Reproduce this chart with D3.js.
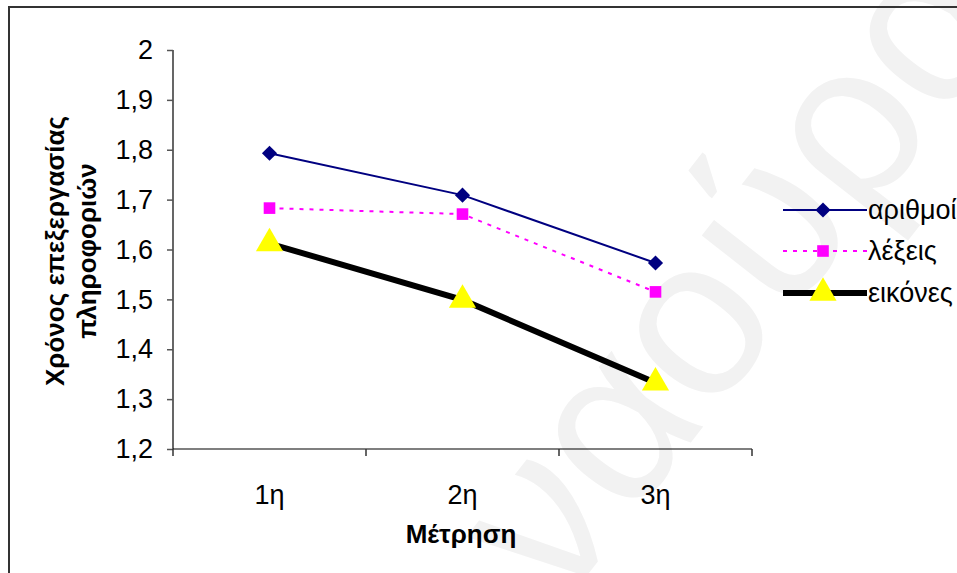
<!DOCTYPE html>
<html>
<head>
<meta charset="utf-8">
<script src="https://cdn.jsdelivr.net/npm/d3@7"></script>
<style>
  body { margin: 0; background: #fff; }
  svg { font-family: "Liberation Sans", Arial, sans-serif; }
</style>
</head>
<body>
<svg id="chart" width="957" height="573"></svg>
<script>
// data
var categories = ['1η', '2η', '3η'];
var arithmoi = [1.793, 1.709, 1.573];
var lexeis = [1.683, 1.671, 1.515];
var eikones = [1.612, 1.499, 1.333];
var yTicks = [1.2, 1.3, 1.4, 1.5, 1.6, 1.7, 1.8, 1.9, 2];
var seriesNames = ['αριθμοί', 'λέξεις', 'εικόνες'];

var svg = d3.select('#chart');

// faint watermark behind everything
svg.append('text')
  .attr('transform', 'translate(560,610) rotate(-52)')
  .attr('font-size', 225)
  .attr('fill', '#f2f2f2')
  .text('ναούρα');

// outer frame (top + left edges visible)
svg.append('path')
  .attr('d', 'M9,573 L9,7 L957,7')
  .attr('fill', 'none')
  .attr('stroke', '#333')
  .attr('stroke-width', 2);

var x = d3.scaleBand().domain(categories).range([173, 752]);
var y = d3.scaleLinear().domain([1.2, 2]).range([449, 50]);

// y axis
var yAxis = svg.append('g')
  .attr('transform', 'translate(173,0)')
  .call(d3.axisLeft(y).tickValues(yTicks).tickSize(6).tickPadding(14)
    .tickFormat(function(d){ return d3.format('.1~f')(d).replace('.', ','); }));
yAxis.select('.domain').attr('stroke', '#000').attr('stroke-width', 1.2).attr('d', 'M0,50V449');
yAxis.selectAll('.tick line').attr('stroke', '#555').attr('stroke-width', 1.5);
yAxis.selectAll('.tick text').attr('font-size', 27).attr('fill', '#000')
  .attr('font-family', null);

// x axis with ticks at band edges
var xAxis = svg.append('g').attr('transform', 'translate(0,449)');
xAxis.append('line').attr('x1', 173).attr('x2', 752).attr('stroke', '#000').attr('stroke-width', 1.2);
var edges = categories.map(function(c){ return x(c); }).concat([x.range()[1]]);
xAxis.selectAll('line.tk').data(edges).enter().append('line')
  .attr('class', 'tk')
  .attr('x1', function(d){ return d; }).attr('x2', function(d){ return d; })
  .attr('y1', 0).attr('y2', 7)
  .attr('stroke', '#333').attr('stroke-width', 1.5);
xAxis.selectAll('text').data(categories).enter().append('text')
  .attr('x', function(d){ return x(d) + x.bandwidth() / 2; })
  .attr('y', 55)
  .attr('text-anchor', 'middle')
  .attr('font-size', 27)
  .text(function(d){ return d; });

// axis titles
svg.append('text')
  .attr('x', 461).attr('y', 543)
  .attr('text-anchor', 'middle')
  .attr('font-size', 26).attr('font-weight', 'bold')
  .text('Μέτρηση');

var yt = svg.append('text')
  .attr('transform', 'translate(64,251) rotate(-90)')
  .attr('text-anchor', 'middle')
  .attr('font-size', 26).attr('font-weight', 'bold');
yt.append('tspan').attr('x', 0).attr('dy', 0).text('Χρόνος επεξεργασίας');
yt.append('tspan').attr('x', 0).attr('dy', 32).text('πληροφοριών');

var cx = function(i){ return x(categories[i]) + x.bandwidth() / 2; };
var line = d3.line().x(function(d, i){ return cx(i); }).y(function(d){ return y(d); });

// diamond = square turned 45deg
var series = [
  { name: seriesNames[0], values: arithmoi, color: '#000080', width: 2, dash: null, symbol: d3.symbolSquare, rot: 45, size: 115, fill: '#000080' },
  { name: seriesNames[1], values: lexeis, color: '#ff00ff', width: 2, dash: '4,6', symbol: d3.symbolSquare, rot: 0, size: 135, fill: '#ff00ff' },
  { name: seriesNames[2], values: eikones, color: '#000', width: 6, dash: null, symbol: d3.symbolTriangle, rot: 0, size: 320, fill: '#ffff00' }
];

series.forEach(function(s){
  svg.append('path')
    .attr('d', line(s.values))
    .attr('fill', 'none')
    .attr('stroke', s.color)
    .attr('stroke-width', s.width)
    .attr('stroke-dasharray', s.dash);
  svg.selectAll(null).data(s.values).enter().append('path')
    .attr('transform', function(d, i){ return 'translate(' + cx(i) + ',' + y(d) + ') rotate(' + s.rot + ')'; })
    .attr('d', d3.symbol().type(s.symbol).size(s.size))
    .attr('fill', s.fill);
});

// legend
var legendY = [210, 251, 293];
series.forEach(function(s, i){
  var g = svg.append('g').attr('transform', 'translate(0,' + legendY[i] + ')');
  g.append('line').attr('x1', 783).attr('x2', 867)
    .attr('stroke', s.color).attr('stroke-width', s.width).attr('stroke-dasharray', s.dash);
  g.append('path').attr('transform', 'translate(823,0) rotate(' + s.rot + ')')
    .attr('d', d3.symbol().type(s.symbol).size(s.size))
    .attr('fill', s.fill);
  g.append('text').attr('x', 868).attr('y', 9).attr('font-size', 27).text(s.name);
});
</script>
</body>
</html>
